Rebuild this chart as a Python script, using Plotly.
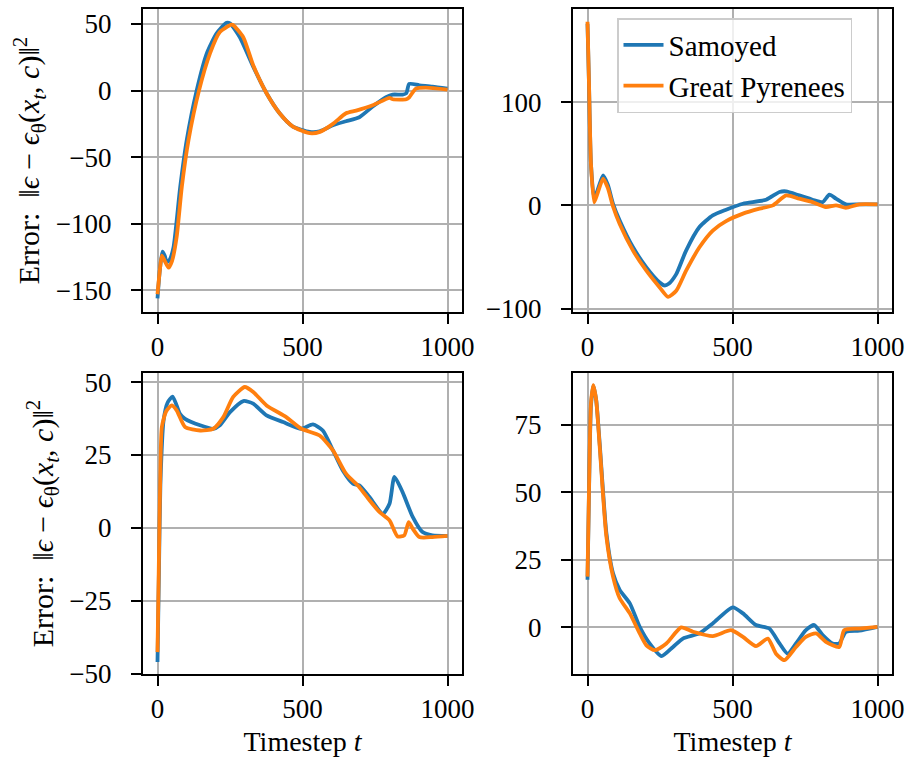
import plotly.graph_objects as go

# ---------------- data ----------------
tl_blue_t = [0, 8, 17, 25, 32, 42, 55, 78, 101, 135, 170, 204, 238, 250, 284, 330, 376, 421, 467, 525, 559, 605, 650, 696, 742, 788, 811, 845, 858, 868, 903, 948, 1000]
tl_blue_v = [-156, -135, -121, -124, -129, -127, -118, -73, -37, 0, 28, 43, 51, 50.5, 40, 18, -2, -17, -27, -31, -30.6, -26, -23, -20, -12, -5, -3, -3, -2, 5, 4, 3, 1.5]
tl_orange_t = [0, 8, 15, 25, 38, 50, 66, 84, 107, 143, 181, 215, 255, 262, 296, 330, 376, 421, 467, 525, 560, 605, 650, 685, 742, 800, 811, 858, 868, 891, 925, 1000]
tl_orange_v = [-153, -135, -124, -128, -133, -128, -110, -72, -37, 0, 28, 44, 49.5, 49, 40, 19, -2, -17, -27, -32, -31, -25, -17, -15, -11, -5.5, -6.5, -6.5, -5, 1.5, 2.3, 0.8]

tr_blue_t = [0, 5, 12, 23, 35, 54, 70, 88, 111, 157, 203, 249, 265, 280, 306, 340, 386, 432, 478, 536, 616, 662, 685, 730, 776, 811, 834, 857, 891, 937, 1000]
tr_blue_v = [176, 120, 40, 6.5, 15, 29, 20, 1.6, -14.6, -40.6, -60, -74.7, -77.6, -76, -66.6, -43.8, -21, -9.7, -4.2, 1.6, 5.5, 13, 13.6, 9.7, 5.5, 3.2, 10.4, 6.5, 1, 1, 1]
tr_orange_t = [0, 5, 12, 23, 35, 54, 70, 88, 111, 157, 203, 249, 278, 306, 340, 386, 432, 478, 536, 593, 639, 685, 730, 776, 822, 857, 891, 937, 1000]
tr_orange_v = [178, 120, 40, 3, 12, 26, 17, -1, -18, -43.8, -63.3, -79.5, -88.6, -82.8, -63.3, -40.6, -24.4, -15.3, -8, -3.2, 0, 9.7, 6.5, 3.2, -1.6, 0, -2.3, 1, 1]

bl_blue_t = [0, 5, 10, 21, 35, 52, 66, 78, 95, 147, 192, 215, 250, 296, 330, 376, 433, 496, 536, 570, 605, 639, 674, 696, 731, 777, 800, 817, 845, 880, 914, 948, 1000]
bl_blue_v = [-45.9, -15, 15, 36.9, 43, 45, 42, 39, 37.4, 35.2, 34, 35.2, 39.7, 43.5, 42.6, 38.6, 36.3, 34, 35.5, 33.4, 26.6, 19.7, 15.2, 14.6, 10.6, 4.9, 8.3, 17.5, 12.3, 3.8, -1.4, -2.5, -2.7]
bl_orange_t = [0, 5, 10, 15, 30, 49, 66, 95, 147, 192, 227, 261, 301, 330, 376, 444, 496, 559, 605, 650, 696, 731, 765, 800, 828, 851, 866, 880, 903, 948, 1000]
bl_orange_v = [-42.5, -10, 20, 34.6, 40, 42, 40.3, 34.6, 33.4, 34, 38, 44.9, 48.3, 46.6, 42, 38, 34, 31.7, 26.6, 18.6, 14, 9.5, 5.5, 2.6, -2.9, -2.5, 2, -0.2, -3.1, -3.1, -2.7]

br_blue_t = [0, 6, 12, 20, 30, 42, 65, 88, 111, 146, 180, 214, 255, 295, 329, 386, 432, 501, 536, 581, 627, 662, 690, 719, 753, 782, 811, 845, 868, 891, 937, 1000]
br_blue_v = [17.6, 55, 82, 89.4, 84, 68, 35, 20, 13.9, 8.9, 0.2, -5.9, -10.6, -7.2, -4.1, -2.2, 1.5, 7.4, 5.2, 0.9, -0.4, -5.9, -9.7, -5.9, -1, 0.9, -2.8, -5.9, -5.9, -1.6, -1.2, 0.2]
br_orange_t = [0, 6, 12, 20, 30, 42, 65, 88, 111, 146, 180, 203, 232, 272, 323, 364, 432, 495, 536, 581, 622, 650, 679, 719, 753, 788, 822, 868, 885, 937, 1000]
br_orange_v = [18.8, 56, 83, 89.6, 84, 67, 33.7, 18.8, 10.8, 5.2, -2.2, -6.6, -8.4, -5.9, 0, -1.6, -3.2, -1, -3.5, -6.9, -4.1, -9.7, -12.1, -7.2, -3.5, -2.2, -5.3, -7.2, -1, -0.4, 0.2]

x_ticks = [0, 500, 1000]
series_names = ["Samoyed", "Great Pyrenees"]
BLUE = "#1f77b4"
ORANGE = "#ff7f0e"

# ---------------- figure ----------------
FONT = "Liberation Serif"
W, H = 910, 759

fig = go.Figure()

panels = [
    ("x", "y", (tl_blue_t, tl_blue_v), (tl_orange_t, tl_orange_v)),
    ("x2", "y2", (tr_blue_t, tr_blue_v), (tr_orange_t, tr_orange_v)),
    ("x3", "y3", (bl_blue_t, bl_blue_v), (bl_orange_t, bl_orange_v)),
    ("x4", "y4", (br_blue_t, br_blue_v), (br_orange_t, br_orange_v)),
]

for i, (xa, ya, b, o) in enumerate(panels):
    fig.add_trace(go.Scatter(x=b[0], y=b[1], xaxis=xa, yaxis=ya, mode="lines",
                             line=dict(color=BLUE, width=3.8, shape="spline", smoothing=0.6),
                             name=series_names[0], showlegend=(i == 1), legendrank=1))
    fig.add_trace(go.Scatter(x=o[0], y=o[1], xaxis=xa, yaxis=ya, mode="lines",
                             line=dict(color=ORANGE, width=3.8, shape="spline", smoothing=0.6),
                             name=series_names[1], showlegend=(i == 1), legendrank=2))

# page-pixel geometry of the four plot boxes (left, right, top, bottom)
boxes = {
    1: (143, 462, 9, 312),
    2: (573, 892, 9, 312),
    3: (143, 462, 373, 674),
    4: (573, 892, 373, 674),
}
yranges = {1: [-166.3, 61.3], 2: [-103.3, 190.3], 3: [-50, 53.1], 4: [-17.2, 94.05]}
ydticks = {1: 50, 2: 100, 3: 25, 4: 25}

ytitle = "Error:  ‖<i>ϵ</i> − <i>ϵ</i><sub>θ</sub>(<i>x</i><sub><i>t</i></sub>, <i>c</i>)‖<sup>2</sup>"
xtitle = "Timestep <i>t</i>"

axis_common = dict(showline=True, linecolor="black", linewidth=2, mirror=True,
                   ticks="outside", ticklen=10, tickwidth=1.5, tickcolor="black",
                   showgrid=True, gridcolor="#b0b0b0", gridwidth=1.5,
                   zeroline=False, tickfont=dict(family=FONT, size=27, color="black"))

layout = {}
for k, (x0, x1, y0, y1) in boxes.items():
    sx = "" if k == 1 else str(k)
    xd = [x0 / W, x1 / W]
    yd = [1 - y1 / H, 1 - y0 / H]
    xa = dict(axis_common, domain=xd, range=[-50, 1050], tickvals=x_ticks,
              anchor="y" + sx)
    ya = dict(axis_common, domain=yd, range=yranges[k], dtick=ydticks[k], tick0=0,
              anchor="x" + sx, ticklabelstandoff=14)
    if k in (3, 4):
        xa["title"] = dict(text=xtitle, font=dict(family=FONT, size=28, color="black"), standoff=8)
    if k in (1, 3):
        ya["title"] = dict(text=ytitle, font=dict(family=FONT, size=30, color="black"), standoff=7)
    layout["xaxis" + sx] = xa
    layout["yaxis" + sx] = ya

fig.update_layout(**layout)
fig.update_layout(
    width=W, height=H,
    margin=dict(l=0, r=0, t=0, b=0, autoexpand=False),
    paper_bgcolor="white", plot_bgcolor="white",
    font=dict(family=FONT, size=27, color="black"),
    legend=dict(x=617 / W, y=1 - 18 / H, xanchor="left", yanchor="top",
                bgcolor="rgba(255,255,255,0.8)", bordercolor="#cccccc", borderwidth=1.5,
                font=dict(family=FONT, size=29, color="black"),
                itemwidth=40, tracegroupgap=0),
)

# remove the default page margin so the figure fills the window exactly
fig.write_html("out.html", config={"displayModeBar": False},
               post_script="document.body.style.margin='0';document.body.style.overflow='hidden';")
